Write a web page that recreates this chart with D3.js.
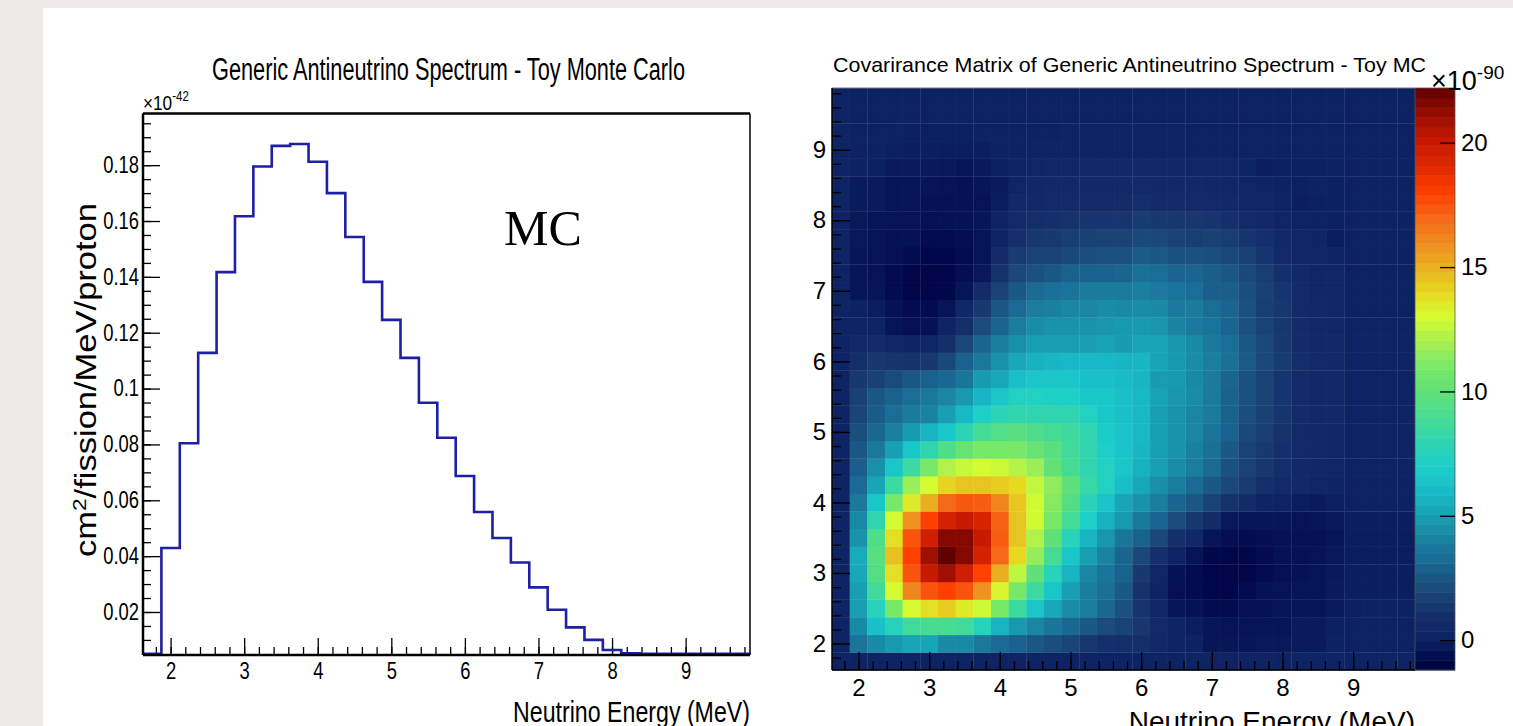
<!DOCTYPE html>
<html>
<head>
<meta charset="utf-8">
<script src="https://cdn.jsdelivr.net/npm/d3@7"></script>
<style>
  body { margin: 0; background: #ecebe7; overflow: hidden; }
  text { font-family: "Liberation Sans", Arial, sans-serif; }
</style>
</head>
<body>
<div id="wrapper"></div>
<script>
// energy bins (MeV), same binning on both plots
const energyEdges = [1.625, 1.875, 2.125, 2.375, 2.625, 2.875, 3.125, 3.375, 3.625, 3.875, 4.125,
  4.375, 4.625, 4.875, 5.125, 5.375, 5.625, 5.875, 6.125, 6.375, 6.625, 6.875, 7.125, 7.375,
  7.625, 7.875, 8.125, 8.375, 8.625, 8.875, 9.125, 9.375, 9.625, 9.875];

// spectrum, x10^-42 cm2/fission/MeV/proton
const spectrum = [0.005, 0.0429, 0.0804, 0.1128, 0.1417, 0.1617, 0.1795, 0.1869, 0.1876, 0.1812,
  0.170, 0.1543, 0.1382, 0.1246, 0.111, 0.0949, 0.0824, 0.0687, 0.0558, 0.0465, 0.0377, 0.0288,
  0.0208, 0.0145, 0.010, 0.0064, 0.0052, 0.005, 0.005, 0.005, 0.005, 0.005, 0.005];

const spectrumTicks = [0.02, 0.04, 0.06, 0.08, 0.1, 0.12, 0.14, 0.16, 0.18];
const energyTicks = [2, 3, 4, 5, 6, 7, 8, 9];
const paletteTicks = [0, 5, 10, 15, 20];

// covariance, x10^-90, row = y bin (from bottom), column = x bin
const covRows = [
  [0.1,0.1,0.1,0.1,0.1,0.1,0.1,0.1,0.1,0.1,0.1,0.1,0.1,0.1,0.1,0.1,0.1,0.1,0.1,0.1,0.1,0.1,0.1,0.1,0.1,0.1,0.1,0.1,0.1,0.1,0.1,0.1,0.1],
  [0.1,3.5,4.3,4.8,5.2,5.2,4.3,4.3,3.7,3.2,2.9,2.5,2.2,1.9,1.3,1.0,0.9,0.9,0.5,0.2,0.0,-0.35,-0.35,-0.35,-0.3,-0.3,-0.2,-0.2,0,0,0,0,0],
  [0.1,4.3,6.2,7.5,8.7,9.0,9.0,8.7,7.5,5.7,4.8,4.2,3.6,3.1,2.6,2.1,1.8,1.3,0.7,0.1,-0.15,-0.35,-0.45,-0.45,-0.4,-0.4,-0.2,-0.2,-0.05,0,0,0,0],
  [0.1,5.0,7.5,11,13,13.8,14.3,13.5,12.8,11,8.5,6.5,5.3,4.4,3.9,3.1,2.3,1.2,0.3,-0.4,-0.5,-0.65,-0.7,-0.55,-0.5,-0.4,-0.4,-0.4,-0.2,-0.05,0,0,0],
  [0.1,5.0,8.7,13,16.2,17.5,18,17.5,15.8,13.2,11,8.5,6.6,5.0,3.9,3.4,2.6,1.1,0.15,-0.55,-0.7,-0.85,-0.85,-0.7,-0.5,-0.45,-0.4,-0.4,-0.2,-0.1,-0.1,-0.1,-0.1],
  [0.1,5.3,9.5,13.8,17.5,20,21,19.7,18,15,12.5,10,7.6,5.7,4.2,3.6,2.9,1.4,0.3,-0.5,-0.7,-0.85,-0.9,-0.85,-0.7,-0.55,-0.5,-0.4,-0.25,-0.1,-0.1,-0.1,-0.1],
  [0.1,5.4,9.7,14.6,18,21,22.2,21.5,19.5,17,14,11.6,8.9,6.6,5.0,4.1,3.0,2.0,1.0,0.1,-0.45,-0.8,-0.85,-0.8,-0.65,-0.5,-0.5,-0.45,-0.3,-0.15,-0.15,-0.15,-0.15],
  [0.1,4.6,9.3,13.8,17.5,19.7,21.5,21.5,20,17.3,14.5,12.2,10,7.6,5.8,4.7,3.6,2.9,2.0,1.0,0.45,-0.4,-0.6,-0.65,-0.6,-0.5,-0.5,-0.5,-0.4,-0.15,-0.15,-0.15,-0.15],
  [0.1,4.3,8.0,13,15.8,18,19.5,20,19.3,17.2,14.5,12.9,11,8.8,7.0,5.6,4.8,3.7,3.0,2.1,1.4,0.75,-0.3,-0.4,-0.35,-0.35,-0.45,-0.35,-0.25,-0.1,-0.1,-0.1,-0.1],
  [0.1,3.7,6.6,11,13.5,15,17,17.4,17.3,16.2,14.4,12.9,11.3,9.5,7.6,6.4,5.2,4.6,3.9,3.0,2.5,1.8,1.1,0.75,0.25,0.1,-0.15,-0.2,-0.05,0,0,0,0],
  [0.1,3.2,5.2,8.5,11.7,13,14.1,14.5,14.5,14.3,14,12.6,11.5,9.9,8.3,7.3,6.1,5.3,4.5,3.9,3.2,2.6,2.0,1.5,1.0,0.7,0.5,0.3,0.2,0,0,0,0],
  [0.1,2.8,4.5,6.6,8.5,11,12.2,12.7,13,12.8,12.3,11.7,10.1,8.9,8.0,7.3,6.5,5.6,5.0,4.4,3.9,3.2,2.3,1.8,1.3,0.9,0.6,0.45,0.3,0.1,0.1,0.1,0.1],
  [0.1,2.5,3.7,5.0,6.6,8.0,9.3,10.3,11,11,11,10.3,9.7,8.7,8.0,7.0,6.4,5.8,5.0,4.6,4.0,3.4,2.6,1.8,1.4,1.0,0.7,0.5,0.35,0.1,0.1,0.1,0.1],
  [0.1,2.2,3.1,4.0,4.8,5.7,6.6,7.8,8.9,9.4,9.7,9.2,8.9,8.5,8.0,6.8,6.4,5.9,5.0,4.6,4.2,3.5,2.9,2.0,1.6,1.1,0.7,0.55,0.4,0.1,0.1,0.1,0.1],
  [0.1,1.9,2.7,3.3,3.8,4.1,5.0,5.9,7.1,7.8,8.1,8.0,8.0,8.0,7.3,6.6,6.2,5.9,5.0,4.6,4.2,3.8,2.9,2.2,1.7,1.2,0.8,0.6,0.5,0.1,0.1,0.1,0.1],
  [0.1,1.7,2.5,2.9,3.3,3.7,4.2,4.8,5.8,6.5,7.3,7.3,7.1,7.1,6.6,6.6,6.2,5.9,5.1,4.7,4.4,3.8,2.9,2.3,1.8,1.2,0.8,0.6,0.5,0.1,0.1,0.1,0.1],
  [0.1,1.4,1.7,2.1,2.5,2.9,3.1,3.6,4.9,5.3,6.2,6.5,6.5,6.5,6.2,6.2,6.0,5.8,4.9,4.8,4.3,3.8,3.0,2.3,1.8,1.2,0.8,0.6,0.5,0.1,0.1,0.1,0.1],
  [0.1,0.9,1.3,1.2,1.1,1.4,2.0,2.9,3.7,4.6,5.3,5.6,5.8,5.9,5.9,5.9,5.8,5.8,5.2,4.8,4.4,3.95,3.4,2.65,2.05,1.5,0.9,0.65,0.55,0.1,0.1,0.1,0.1],
  [0.1,0.5,0.7,0.3,0.15,0.3,1.0,2.0,3.0,3.9,4.5,5.0,5.0,5.0,5.0,5.1,4.9,5.2,5.2,4.7,4.35,3.75,3.3,2.55,2.0,1.4,0.8,0.6,0.5,0.1,0.1,0.1,0.1],
  [0.1,0.2,0.1,-0.4,-0.55,-0.5,0.1,1.0,2.1,3.0,3.9,4.4,4.6,4.6,4.6,4.7,4.8,4.8,4.7,4.1,3.75,3.5,3.0,2.3,1.75,1.35,0.75,0.55,0.45,0.1,0.1,0.1,0.1],
  [0.1,0.0,-0.15,-0.5,-0.7,-0.7,-0.45,0.45,1.4,2.5,3.2,3.9,4.0,4.2,4.2,4.4,4.3,4.4,4.35,3.75,3.8,3.3,2.95,2.3,1.65,1.3,0.7,0.5,0.4,0.05,0.05,0.05,0.05],
  [0.1,-0.35,-0.35,-0.65,-0.85,-0.85,-0.8,-0.4,0.75,1.8,2.6,3.2,3.4,3.5,3.8,3.8,3.8,3.95,3.75,3.5,3.3,2.8,2.75,2.2,1.7,1.25,0.7,0.45,0.4,0.05,0.05,0.05,0.05],
  [0.1,-0.35,-0.45,-0.7,-0.85,-0.9,-0.85,-0.6,-0.3,1.1,2.0,2.3,2.6,2.9,2.9,2.9,3.0,3.4,3.3,3.0,2.95,2.75,2.5,2.0,1.55,1.0,0.5,0.4,0.35,0,0,0,0],
  [0.1,-0.35,-0.45,-0.55,-0.7,-0.85,-0.8,-0.65,-0.4,0.75,1.5,1.8,1.8,2.0,2.2,2.3,2.3,2.65,2.55,2.3,2.3,2.2,2.0,1.7,1.25,0.7,0.4,0.3,0.25,0,0,0,0],
  [0.1,-0.3,-0.4,-0.5,-0.5,-0.7,-0.65,-0.6,-0.35,0.25,1.0,1.3,1.4,1.6,1.7,1.8,1.8,2.05,2.0,1.75,1.65,1.7,1.55,1.25,1.0,0.55,0.3,0.2,-0.15,0,0,0,0],
  [0.1,-0.3,-0.4,-0.4,-0.45,-0.55,-0.5,-0.5,-0.35,0.1,0.7,0.9,1.0,1.1,1.2,1.2,1.2,1.5,1.4,1.35,1.3,1.25,1.0,0.7,0.55,0.3,0.15,0,-0.05,0,0,0,0],
  [0.1,-0.2,-0.2,-0.4,-0.4,-0.5,-0.5,-0.5,-0.45,-0.15,0.5,0.6,0.7,0.7,0.8,0.8,0.8,0.9,0.8,0.75,0.7,0.7,0.5,0.4,0.3,0.15,-0.1,-0.05,-0.05,0,0,0,0],
  [0.1,-0.2,-0.2,-0.4,-0.4,-0.4,-0.45,-0.5,-0.35,-0.2,0.3,0.45,0.5,0.55,0.6,0.6,0.6,0.65,0.6,0.55,0.5,0.45,0.4,0.3,0.2,0,-0.05,0,-0.05,0,0,0,0],
  [0.1,0,-0.05,-0.2,-0.2,-0.25,-0.3,-0.4,-0.25,-0.05,0.2,0.3,0.35,0.4,0.5,0.5,0.5,0.55,0.5,0.45,0.4,0.4,0.35,0.25,-0.15,-0.05,-0.05,-0.05,0,0,0,0,0],
  [0.1,0,0,-0.05,-0.1,-0.1,-0.15,-0.15,-0.1,0,0,0.1,0.1,0.1,0.1,0.1,0.1,0.1,0.1,0.1,0.05,0.05,0,0,0,0,0,0,0,0,0,0,0],
  [0.1,0,0,0,-0.05,-0.05,-0.05,-0.05,0,0,0,0.05,0.05,0.1,0.1,0.1,0.1,0.1,0.1,0.1,0.05,0.05,0,0,0,0,0,0,0,0,0,0,0],
  [0.1,0,0,0,0,0,0,0,0,0,0,0,0,0.05,0.05,0.05,0.05,0.05,0.05,0.05,0,0,0,0,0,0,0,0,0,0,0,0,0],
  [0.1,0,0,0,0,0,0,0,0,0,0,0,0,0,0,0,0,0,0,0,0,0,0,0,0,0,0,0,0,0,0,0,0]
];

// colour palette stops (value -> colour)
const paletteValues = [-1.2, -0.85, 0, 1, 2, 3, 4, 5, 6, 7, 8, 9, 10, 11, 12, 13, 14, 15, 16, 17, 18, 19, 20, 21, 22.2];
const paletteColors = ["#000340", "#000648", "#0c2262", "#152f6a", "#1a4878", "#1a6590", "#1a80a0", "#18a0b2",
  "#18bcc8", "#1ccfc8", "#30d5b0", "#48dc90", "#60e078", "#78e868", "#a8f050", "#d4fc30",
  "#e8d820", "#e8b020", "#f08c20", "#f46818", "#ff4000", "#e02800", "#c81a00", "#a01000", "#600000"];

let dimensions = {
  width: 1513,
  height: 726,
  panel: { x: 43, y: 8 },
  spec: { left: 143, right: 750, top: 113.5, bottom: 655 },
  cov: { left: 832, right: 1415, top: 88, bottom: 670 },
  pal: { left: 1415, right: 1455 }
};

function drawChart() {
  const svg = d3
    .select("#wrapper")
    .append("svg")
    .attr("width", dimensions.width)
    .attr("height", dimensions.height)
    .style("display", "block");

  svg
    .append("rect")
    .attr("x", dimensions.panel.x)
    .attr("y", dimensions.panel.y)
    .attr("width", dimensions.width - dimensions.panel.x)
    .attr("height", dimensions.height - dimensions.panel.y)
    .attr("fill", "#ffffff");

  drawSpectrum(svg);
  drawCovariance(svg);
}

function drawSpectrum(svg) {
  const s = dimensions.spec;
  const g = svg.append("g");

  const xScale = d3
    .scaleLinear()
    .domain([energyEdges[0], energyEdges[energyEdges.length - 1]])
    .range([s.left, s.right]);

  const yScale = d3
    .scaleLinear()
    .domain([0.0046, 0.1985])
    .range([s.bottom, s.top]);

  // minor ticks
  g.append("g")
    .attr("transform", `translate(0, ${s.bottom})`)
    .call(
      d3.axisBottom(xScale)
        .tickValues(d3.range(1.8, 9.85, 0.2))
        .tickSize(-8)
        .tickFormat("")
    );
  g.append("g")
    .attr("transform", `translate(${s.left}, 0)`)
    .call(
      d3.axisLeft(yScale)
        .tickValues(d3.range(0.005, 0.198, 0.005))
        .tickSize(-8)
        .tickFormat("")
    );

  const xAxis = g
    .append("g")
    .attr("transform", `translate(0, ${s.bottom})`)
    .call(
      d3.axisBottom(xScale)
        .tickValues(energyTicks)
        .tickSize(-17)
        .tickPadding(8)
        .tickFormat(d3.format("d"))
    );

  const yAxis = g
    .append("g")
    .attr("transform", `translate(${s.left}, 0)`)
    .call(
      d3.axisLeft(yScale)
        .tickValues(spectrumTicks)
        .tickSize(-17)
        .tickPadding(5)
        .tickFormat(d => String(+d.toFixed(2)))
    );

  g.selectAll(".domain").remove();
  g.selectAll(".tick line").attr("stroke", "#000").attr("stroke-width", 1.3);

  xAxis
    .selectAll("text")
    .attr("font-size", 23)
    .attr("fill", "#000")
    .attr("transform", "scale(0.8,1)");
  yAxis
    .selectAll("text")
    .attr("font-size", 23)
    .attr("fill", "#000")
    .attr("transform", "scale(0.8,1)");

  // histogram outline
  const points = spectrum.map((v, i) => [energyEdges[i], v]);
  points.push([energyEdges[energyEdges.length - 1], spectrum[spectrum.length - 1]]);

  const line = d3
    .line()
    .x(d => xScale(d[0]))
    .y(d => yScale(Math.max(d[1], yScale.domain()[0])))
    .curve(d3.curveStepAfter);

  g.append("path")
    .attr("d", line(points))
    .attr("fill", "none")
    .attr("stroke", "#1f1fa3")
    .attr("stroke-width", 2.6);

  // frame
  g.append("line")
    .attr("x1", s.right).attr("x2", s.right)
    .attr("y1", s.top).attr("y2", s.bottom)
    .attr("stroke", "#000").attr("stroke-width", 1.5);
  g.append("line")
    .attr("x1", s.left).attr("x2", s.right)
    .attr("y1", s.top).attr("y2", s.top)
    .attr("stroke", "#000").attr("stroke-width", 2.5);
  g.append("line")
    .attr("x1", s.left).attr("x2", s.left)
    .attr("y1", s.top).attr("y2", s.bottom)
    .attr("stroke", "#000").attr("stroke-width", 2.5);
  g.append("line")
    .attr("x1", s.left).attr("x2", s.right)
    .attr("y1", s.bottom).attr("y2", s.bottom)
    .attr("stroke", "#000").attr("stroke-width", 2.5);

  g.append("text")
    .attr("x", 212)
    .attr("y", 80)
    .attr("font-size", 31)
    .attr("textLength", 473)
    .attr("lengthAdjust", "spacingAndGlyphs")
    .text("Generic Antineutrino Spectrum - Toy Monte Carlo");

  const exp = g
    .append("text")
    .attr("x", s.left / 0.82)
    .attr("y", 110)
    .attr("font-size", 21)
    .attr("transform", "scale(0.82,1)");
  exp.append("tspan").text("×10");
  exp.append("tspan").attr("dy", -9).attr("font-size", 14).text("-42");

  g.append("text")
    .attr("x", s.right)
    .attr("y", 722)
    .attr("font-size", 29)
    .attr("text-anchor", "end")
    .attr("textLength", 237)
    .attr("lengthAdjust", "spacingAndGlyphs")
    .text("Neutrino Energy (MeV)");

  const yLabel = g
    .append("text")
    .attr("transform", "translate(96, 380) rotate(-90)")
    .attr("font-size", 29)
    .attr("text-anchor", "middle")
    .attr("textLength", 354)
    .attr("lengthAdjust", "spacingAndGlyphs");
  yLabel.append("tspan").text("cm");
  yLabel.append("tspan").attr("dy", -10).attr("font-size", 19).text("2");
  yLabel.append("tspan").attr("dy", 10).text("/fission/MeV/proton");

  g.append("text")
    .attr("x", 504)
    .attr("y", 245)
    .attr("font-size", 50)
    .style("font-family", "'Liberation Serif', 'Times New Roman', serif")
    .text("MC");
}

function drawCovariance(svg) {
  const c = dimensions.cov;
  const p = dimensions.pal;
  const g = svg.append("g");

  const xScale = d3
    .scaleLinear()
    .domain([energyEdges[0], energyEdges[energyEdges.length - 1]])
    .range([c.left, c.right]);

  const yScale = d3
    .scaleLinear()
    .domain([energyEdges[0], energyEdges[energyEdges.length - 1]])
    .range([c.bottom, c.top]);

  const zScale = d3
    .scaleLinear()
    .domain([paletteValues[0], paletteValues[paletteValues.length - 1]])
    .range([c.bottom, c.top]);

  const colorScale = d3
    .scaleLinear()
    .domain(paletteValues)
    .range(paletteColors)
    .clamp(true);

  const cells = covRows.flatMap((row, r) => row.map((v, col) => ({ r, col, v })));

  g.append("g")
    .selectAll("rect")
    .data(cells)
    .join("rect")
    .attr("x", d => xScale(energyEdges[d.col]))
    .attr("y", d => yScale(energyEdges[d.r + 1]))
    .attr("width", d => xScale(energyEdges[d.col + 1]) - xScale(energyEdges[d.col]) + 0.4)
    .attr("height", d => yScale(energyEdges[d.r]) - yScale(energyEdges[d.r + 1]) + 0.4)
    .attr("fill", d => colorScale(d.v))
    .attr("stroke", "rgba(255,255,255,0.035)")
    .attr("stroke-width", 0.6);

  // palette bands
  const zMin = paletteValues[0];
  const zMax = paletteValues[paletteValues.length - 1];
  const nBands = 60;
  const bands = d3.range(nBands).map(i => zMin + ((zMax - zMin) * i) / nBands);
  const dz = (zMax - zMin) / nBands;

  g.append("g")
    .selectAll("rect")
    .data(bands)
    .join("rect")
    .attr("x", p.left)
    .attr("y", d => zScale(d + dz))
    .attr("width", p.right - p.left)
    .attr("height", d => zScale(d) - zScale(d + dz) + 0.5)
    .attr("fill", d => colorScale(d + dz / 2));

  g.append("rect")
    .attr("x", p.left)
    .attr("y", c.top)
    .attr("width", p.right - p.left)
    .attr("height", c.bottom - c.top)
    .attr("fill", "none")
    .attr("stroke", "#555")
    .attr("stroke-width", 0.8);

  g.append("g")
    .attr("transform", `translate(${p.right}, 0)`)
    .call(
      d3.axisRight(zScale)
        .tickValues(paletteTicks)
        .tickSize(-15)
        .tickPadding(6)
        .tickFormat(d3.format("d"))
    );

  // minor ticks
  g.append("g")
    .attr("transform", `translate(0, ${c.bottom})`)
    .call(
      d3.axisBottom(xScale)
        .tickValues(d3.range(1.8, 9.85, 0.2))
        .tickSize(-9)
        .tickFormat("")
    );
  g.append("g")
    .attr("transform", `translate(${c.left}, 0)`)
    .call(
      d3.axisLeft(yScale)
        .tickValues(d3.range(1.8, 9.85, 0.2))
        .tickSize(-9)
        .tickFormat("")
    );

  g.append("g")
    .attr("transform", `translate(0, ${c.bottom})`)
    .call(
      d3.axisBottom(xScale)
        .tickValues(energyTicks)
        .tickSize(-18)
        .tickPadding(9)
        .tickFormat(d3.format("d"))
    );

  g.append("g")
    .attr("transform", `translate(${c.left}, 0)`)
    .call(
      d3.axisLeft(yScale)
        .tickValues(energyTicks)
        .tickSize(-18)
        .tickPadding(6)
        .tickFormat(d3.format("d"))
    );

  g.selectAll(".domain").remove();
  g.selectAll(".tick line").attr("stroke", "#000").attr("stroke-width", 1.3);
  g.selectAll(".tick text").attr("font-size", 24).attr("fill", "#000");

  g.append("line")
    .attr("x1", c.left).attr("x2", c.right)
    .attr("y1", c.top).attr("y2", c.top)
    .attr("stroke", "#777").attr("stroke-width", 1);
  g.append("line")
    .attr("x1", c.left).attr("x2", c.left)
    .attr("y1", c.top).attr("y2", c.bottom)
    .attr("stroke", "#000").attr("stroke-width", 1.5);
  g.append("line")
    .attr("x1", c.left).attr("x2", c.right)
    .attr("y1", c.bottom).attr("y2", c.bottom)
    .attr("stroke", "#000").attr("stroke-width", 1.5);

  g.append("text")
    .attr("x", 833)
    .attr("y", 72)
    .attr("font-size", 21)
    .attr("textLength", 593)
    .attr("lengthAdjust", "spacingAndGlyphs")
    .text("Covarirance Matrix of Generic Antineutrino Spectrum - Toy MC");

  const exp = g
    .append("text")
    .attr("x", 1431)
    .attr("y", 90)
    .attr("font-size", 27);
  exp.append("tspan").text("×10");
  exp.append("tspan").attr("dy", -11).attr("font-size", 19).text("-90");

  g.append("text")
    .attr("x", c.right)
    .attr("y", 731)
    .attr("font-size", 28)
    .attr("text-anchor", "end")
    .text("Neutrino Energy (MeV)");
}

drawChart();
</script>
</body>
</html>
